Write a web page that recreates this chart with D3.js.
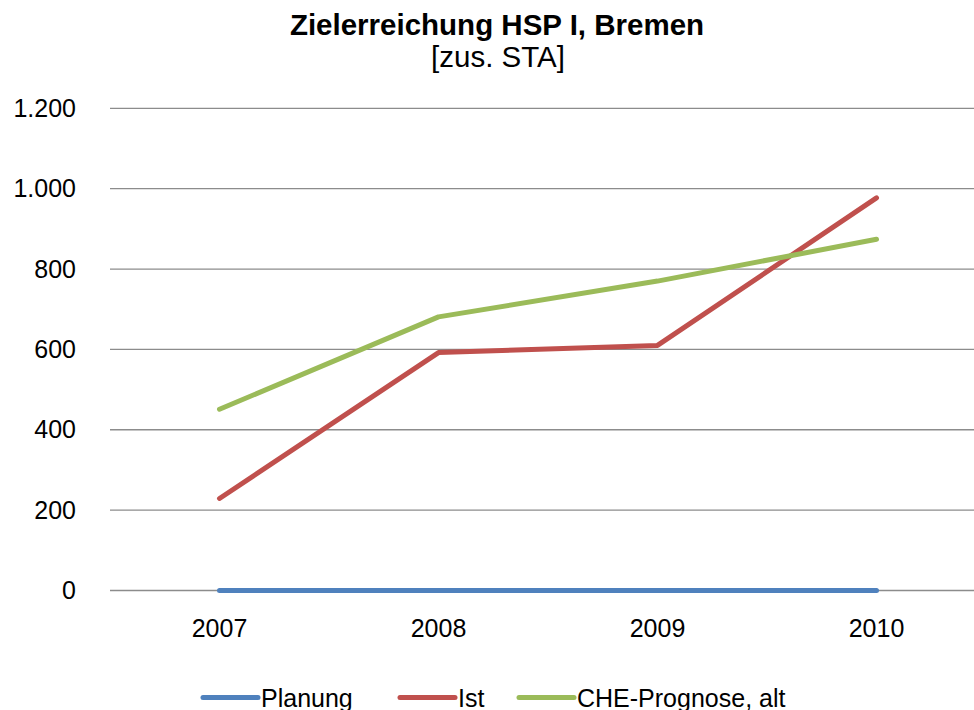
<!DOCTYPE html>
<html>
<head>
<meta charset="utf-8">
<script src="https://cdn.jsdelivr.net/npm/d3@7"></script>
<style>
  body { margin: 0; background: #fff; }
  svg { display: block; font-family: "Liberation Sans", Arial, sans-serif; }
</style>
</head>
<body>
<div id="chart"></div>
<script>
var years = ["2007", "2008", "2009", "2010"];
var planung = [0, 0, 0, 0];
var ist = [229, 592, 610, 977];
var cheAlt = [451, 681, 770, 874];
var yTicks = [0, 200, 400, 600, 800, 1000, 1200];

var series = [
  { name: "Planung", values: planung, color: "#4F81BD" },
  { name: "Ist", values: ist, color: "#C0504D" },
  { name: "CHE-Prognose, alt", values: cheAlt, color: "#9BBB59" }
];

var width = 974, height = 710;
var plotLeft = 110, plotRight = 986, plotTop = 108.3, plotBottom = 590.5;

var svg = d3.select("#chart").append("svg")
    .attr("width", width)
    .attr("height", height);

var x = d3.scaleBand().domain(years).range([plotLeft, plotRight]);
var y = d3.scaleLinear().domain([0, 1200]).range([plotBottom, plotTop]);

var de = d3.formatLocale({ decimal: ",", thousands: ".", grouping: [3], currency: ["", "€"] });

// gridlines
svg.append("g")
    .selectAll("line")
    .data(yTicks)
  .enter().append("line")
    .attr("x1", plotLeft)
    .attr("x2", plotRight)
    .attr("y1", function(d) { return y(d); })
    .attr("y2", function(d) { return y(d); })
    .attr("stroke", "#8c8c8c")
    .attr("stroke-width", 1.3);

// y axis labels
var yAxis = svg.append("g")
    .attr("transform", "translate(" + plotLeft + ",0)")
    .call(d3.axisLeft(y).tickValues(yTicks).tickFormat(de.format(",d")).tickSize(0).tickPadding(34));
yAxis.select(".domain").remove();
yAxis.selectAll("text")
    .attr("font-size", "25px")
    .attr("font-family", "Liberation Sans, Arial, sans-serif")
    .attr("fill", "#000");

// x axis labels
var xAxis = svg.append("g")
    .attr("transform", "translate(0," + plotBottom + ")")
    .call(d3.axisBottom(x).tickSize(0).tickPadding(29));
xAxis.select(".domain").remove();
xAxis.selectAll("text")
    .attr("font-size", "25px")
    .attr("font-family", "Liberation Sans, Arial, sans-serif")
    .attr("fill", "#000");

var line = d3.line()
    .x(function(d, i) { return x(years[i]) + x.bandwidth() / 2; })
    .y(function(d) { return y(d); });

svg.append("g")
    .selectAll("path")
    .data(series)
  .enter().append("path")
    .attr("d", function(s) { return line(s.values); })
    .attr("fill", "none")
    .attr("stroke", function(s) { return s.color; })
    .attr("stroke-width", 5)
    .attr("stroke-linecap", "round")
    .attr("stroke-linejoin", "round");

// title
svg.append("text")
    .attr("x", 497)
    .attr("y", 35)
    .attr("text-anchor", "middle")
    .attr("font-size", "29.5px")
    .attr("font-weight", "bold")
    .text("Zielerreichung HSP I, Bremen");
svg.append("text")
    .attr("x", 498)
    .attr("y", 67)
    .attr("text-anchor", "middle")
    .attr("font-size", "29.5px")
    .text("[zus. STA]");

// legend
var legendX = [203, 400, 519];
var legend = svg.append("g")
    .selectAll("g")
    .data(series)
  .enter().append("g")
    .attr("transform", function(s, i) { return "translate(" + legendX[i] + ",697.5)"; });
legend.append("line")
    .attr("x1", 0).attr("x2", 55)
    .attr("y1", 0).attr("y2", 0)
    .attr("stroke", function(s) { return s.color; })
    .attr("stroke-width", 5)
    .attr("stroke-linecap", "round");
legend.append("text")
    .attr("x", 58)
    .attr("y", 9)
    .attr("font-size", "25px")
    .text(function(s) { return s.name; });
</script>
</body>
</html>
